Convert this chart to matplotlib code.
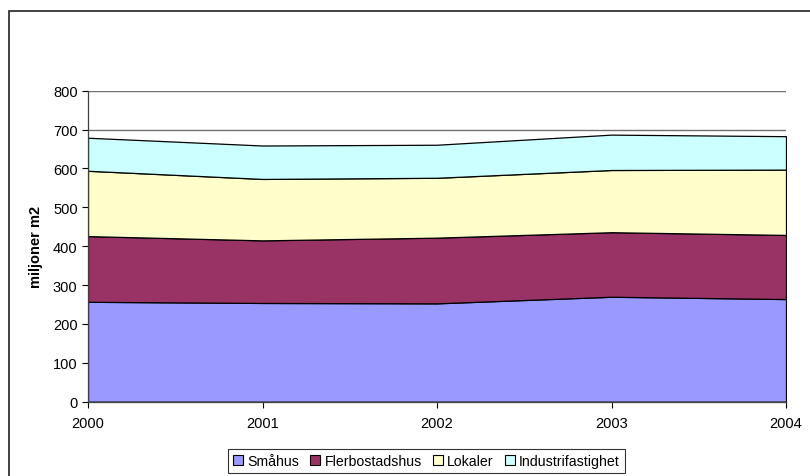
import matplotlib
matplotlib.use("Agg")
import matplotlib.pyplot as plt
from matplotlib.patches import Rectangle, Patch

plt.rcParams['font.family'] = ['Liberation Sans', 'DejaVu Sans']

# data (miljoner m2)
years = [2000, 2001, 2002, 2003, 2004]
smahus = [257, 254, 253, 270, 264]
flerbostadshus = [169, 161, 169, 166, 165]
lokaler = [168, 158, 154, 160, 168]
industri = [85, 86, 85, 91, 86]
labels = ["Småhus", "Flerbostadshus", "Lokaler", "Industrifastighet"]
colors = ["#9999FF", "#993366", "#FFFFCC", "#CCFFFF"]

fig = plt.figure(figsize=(8.1, 4.77), dpi=100)

# outer chart frame (cut off at right and bottom)
fig.patches.append(Rectangle((9 / 810, -0.1), 1.0, 1 - 12 / 477 + 0.1,
                             transform=fig.transFigure, fill=False,
                             edgecolor="#222222", linewidth=1.2))

ax = fig.add_axes([88 / 810, 1 - 402.7 / 477, 698 / 810, 311 / 477])

for y in range(100, 900, 100):
    ax.axhline(y, color="#707070", linewidth=1.0, zorder=0)

ax.stackplot(years, smahus, flerbostadshus, lokaler, industri,
             colors=colors, edgecolor="black", linewidth=0.9, zorder=2)

ax.set_xlim(2000, 2004)
ax.set_ylim(0, 800)
ax.set_xticks(years)
ax.set_yticks(range(0, 900, 100))
ax.tick_params(axis="both", direction="out", length=4, width=0.8,
               labelsize=10.5, colors="black")
ax.tick_params(axis="x", pad=6)
for s in ["top", "right"]:
    ax.spines[s].set_visible(False)
for s in ["left", "bottom"]:
    ax.spines[s].set_color("#404040")
    ax.spines[s].set_linewidth(0.9)
    ax.spines[s].set_zorder(3)

ax.set_ylabel("miljoner m2", fontsize=10.5, fontweight="bold")
ax.yaxis.set_label_coords(-0.065, 0.5)

handles = [Patch(facecolor=c, edgecolor="black", linewidth=0.8) for c in colors]
leg = fig.legend(handles, labels, loc="upper left",
                 bbox_to_anchor=(228 / 810, 1 - 450 / 477), ncol=4,
                 fontsize=10.2, frameon=True, fancybox=False,
                 handlelength=0.7, handleheight=0.7, handletextpad=0.3,
                 columnspacing=0.8, borderpad=0.35, borderaxespad=0)
leg.get_frame().set_edgecolor("black")
leg.get_frame().set_linewidth(0.8)

fig.savefig("out.png", dpi=100)
